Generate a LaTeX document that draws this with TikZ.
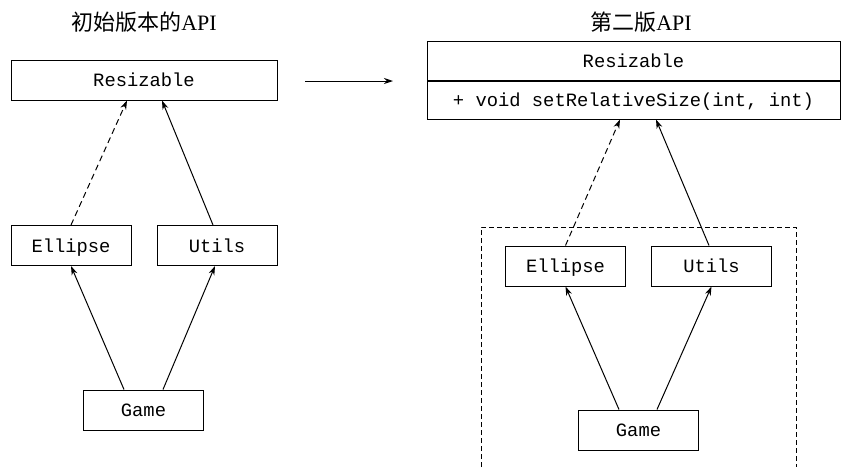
\documentclass[tikz,border=0pt]{standalone}
\usepackage{fontspec}
\setmainfont{Liberation Serif}
\setmonofont{Liberation Mono}
\newfontfamily\cjk{Noto Sans CJK SC}
\usetikzlibrary{arrows.meta}

\begin{document}
\begin{tikzpicture}[x=1pt,y=-1pt,>={Stealth[length=9pt,width=6pt]},line width=1pt,
    font=\fontsize{18.8}{22}\selectfont\ttfamily]
    \tikzset{box/.style={
      draw, minimum width=120pt, minimum height=40pt, inner sep=0pt,
      text height=15pt, text depth=2pt
    }}
    \tikzset{title/.style={font=\fontsize{22}{26}\selectfont\rmfamily}}
    \useasboundingbox (0,0) rectangle (841,467);
    % Titles
    \node[title] (oldtitle) at (144,22)      {{\cjk 初始版本的}API};
    \node[title] (newtitle) at (641,22)      {{\cjk 第二版}API};
    % Left column: initial API
    \node[box, minimum width=266pt] (oldres) at (144,80) {Resizable};
    \node[box] (oldell)      at (71,245.5)    {Ellipse};
    \node[box] (oldutl)      at (217,245.5)   {Utils};
    \node[box] (oldgame)     at (143.5,410)   {Game};
    % Right column: second version
    \node[box, minimum width=413pt, minimum height=39pt] (newres) at (633.5,60.5) {Resizable};
    \node[box, minimum width=413pt, minimum height=38pt, anchor=north] (newmeth)
      at (newres.south) {+ void setRelativeSize(int, int)};
    \node[box] (newell)      at (565.5,266)   {Ellipse};
    \node[box] (newutl)      at (711.5,266)   {Utils};
    \node[box] (newgame)     at (638.5,430)   {Game};
    % Group round the right lower part
    \draw[dash pattern=on 5pt off 3pt] (481,467) -- (481,227) -- (796,227) -- (796,467);

    % Arrows
    \coordinate (fromold) at (305,81);
    \coordinate (tonew)   at (393,81);
    \draw[->] (fromold) -- (tonew);
    \draw[->] ([xshift=-19.5pt]oldgame.north) -- (oldell.south);
    \draw[->] ([xshift=19.5pt]oldgame.north)  -- ([xshift=-2pt]oldutl.south);
    \draw[dash pattern=on 6pt off 4pt,->] (oldell.north) -- ([xshift=-17pt]oldres.south);
    \draw[->] ([xshift=-4pt]oldutl.north)     -- ([xshift=18pt]oldres.south);
    \draw[->] ([xshift=-19.5pt]newgame.north) -- (newell.south);
    \draw[->] ([xshift=18.5pt]newgame.north)  -- (newutl.south);
    \draw[dash pattern=on 6pt off 4pt,->] (newell.north) -- ([xshift=-13.5pt]newmeth.south);
    \draw[->] ([xshift=-2.5pt]newutl.north)   -- ([xshift=22.5pt]newmeth.south);

  \end{tikzpicture}
\end{document}
